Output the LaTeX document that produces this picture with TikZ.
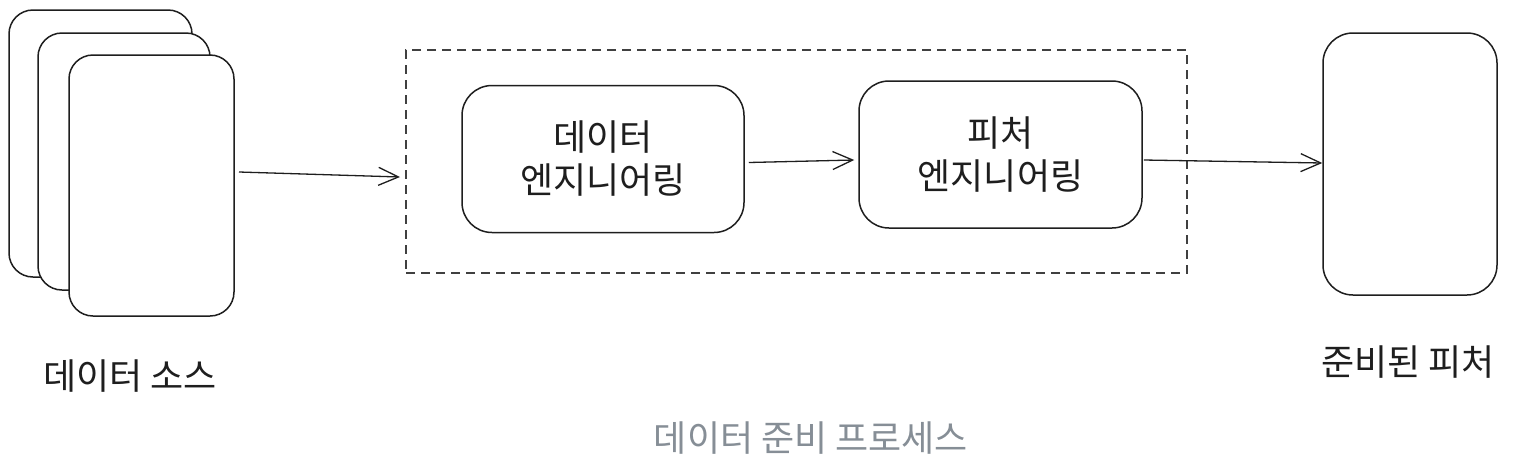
\documentclass[tikz,border=0pt]{standalone}
\usepackage{fontspec}
\newfontfamily\kr{Noto Sans CJK KR}
\usetikzlibrary{arrows.meta}
\definecolor{ink}{HTML}{1E1E1E}
\definecolor{titlegray}{HTML}{868E96}
\begin{document}
\begin{tikzpicture}[x=1pt,y=-1pt,
  card/.style={draw=ink,line width=1.5pt,rounded corners=24pt,fill=white,inner sep=0pt},
  procbox/.style={draw=ink,line width=1.5pt,rounded corners=30pt,fill=white,inner sep=0pt,
    align=center,font=\kr\fontsize{36}{43}\selectfont,text=ink},
  lbl/.style={font=\kr\fontsize{36}{40}\selectfont,text=ink,inner sep=0pt},
  arr/.style={draw=ink,line width=1.3pt,-{Straight Barb[length=20pt,width=18pt,line width=1.3pt]}},
  frame/.style={draw=ink!85,line width=1.3pt,dash pattern=on 9pt off 6pt}]
\useasboundingbox (0,0) rectangle (1535,472);
\fill[white] (0,0) rectangle (1535,472);
% stacked data-source cards
\node[card,minimum width=183pt,minimum height=267pt] (card1) at (100.5,143.5) {};
\node[card,minimum width=172pt,minimum height=257pt] (card2) at (124,161.5) {};
\node[card,minimum width=165pt,minimum height=261pt] (card3) at (151.5,185.5) {};
% dashed process frame
\node[frame,minimum width=781pt,minimum height=223pt,inner sep=0pt] (frm) at (796.5,161.5) {};
% process boxes
\node[procbox,minimum width=282pt,minimum height=147pt] (de) at (603,159) {데이터\\엔지니어링};
\node[procbox,minimum width=283pt,minimum height=147pt] (fe) at (1000.5,154.5) {피처\\엔지니어링};
% prepared features
\node[card,rounded corners=30pt,minimum width=174pt,minimum height=262pt] (out) at (1410,164) {};
% labels
\node[lbl] (srclbl) at (130,376) {데이터 소스};
\node[lbl] (outlbl) at (1408,362) {준비된 피처};
\node[lbl,text=titlegray] (title) at (811,438) {데이터 준비 프로세스};
% connectors
\coordinate (a1s) at (239,172);
\coordinate (a1e) at (400,177);
\draw[arr] (a1s) -- (a1e);
\draw[arr] ([xshift=4pt,yshift=-3.5pt]de.east) -- ([xshift=-4pt,yshift=-5.5pt]fe.west);
\draw[arr] ([xshift=1pt,yshift=-5.5pt]fe.east) -- ([yshift=1pt]out.west);
\end{tikzpicture}
\end{document}
